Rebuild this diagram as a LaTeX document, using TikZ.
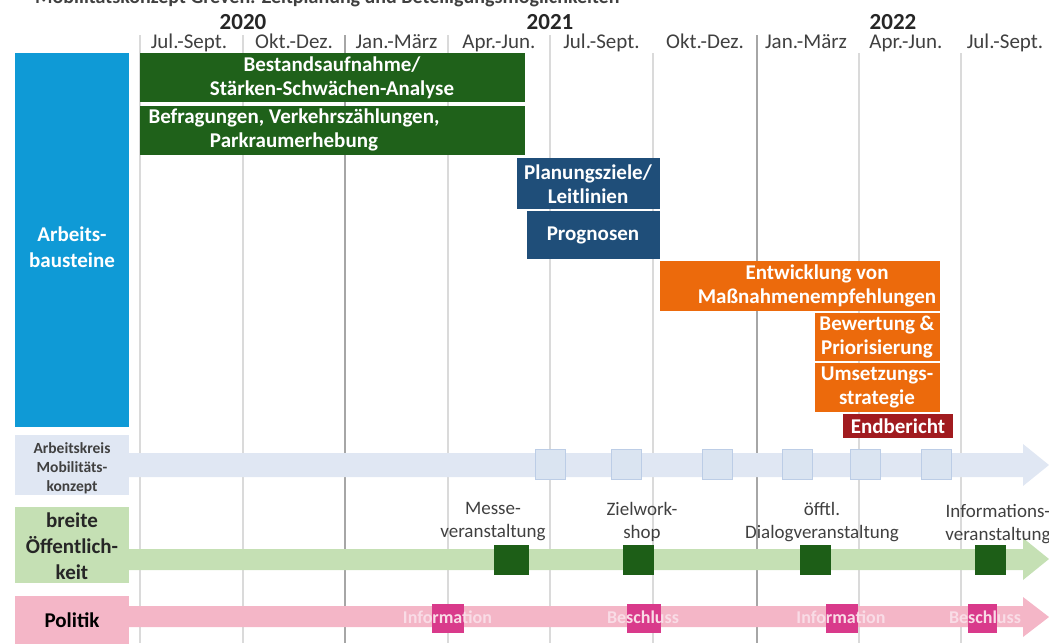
\documentclass[tikz,border=0pt]{standalone}
\usepackage{fontspec}
\setmainfont{Carlito}
\definecolor{abblue}{HTML}{0F9AD6}
\definecolor{aklav}{HTML}{E0E7F3}
\definecolor{aksqfill}{HTML}{DAE4F1}
\definecolor{aksqdraw}{HTML}{BCCDE6}
\definecolor{oegreen}{HTML}{C5E0B4}
\definecolor{popink}{HTML}{F4B6C7}
\definecolor{dgreen}{HTML}{1F611A}
\definecolor{sqgreen}{HTML}{1D5E17}
\definecolor{navy}{HTML}{1F4E79}
\definecolor{orng}{HTML}{EC6A0C}
\definecolor{dred}{HTML}{A11B1F}
\definecolor{polmag}{HTML}{D93A8B}
\definecolor{gridl}{HTML}{DADADA}
\definecolor{gridd}{HTML}{A6A6A6}
\definecolor{txtgray}{HTML}{404040}
\definecolor{yeargray}{HTML}{262626}
\definecolor{poltext}{HTML}{F9DCE6}
\begin{document}
\begin{tikzpicture}[x=1pt,y=-1pt,
  txt/.style={inner sep=0pt, align=center},
  bartext/.style={txt, text=white, font=\bfseries\fontsize{21}{24}\selectfont},
  yearlab/.style={txt, anchor=base, text=yeargray, font=\bfseries\fontsize{23}{26}\selectfont},
  quarter/.style={txt, anchor=base, text=txtgray, font=\fontsize{21}{24}\selectfont},
  evlabel/.style={txt, text=txtgray, font=\fontsize{19}{23}\selectfont},
  pollabel/.style={txt, text=poltext, font=\bfseries\fontsize{18}{22}\selectfont},
  aksq/.style={draw=aksqdraw, fill=aksqfill, line width=1pt, minimum width=30, minimum height=30, inner sep=0pt},
  oesq/.style={fill=sqgreen, minimum width=31, minimum height=30, inner sep=0pt},
  posq/.style={fill=polmag, minimum width=32, minimum height=29, inner sep=0pt},
  gridline/.style={draw=gridl, line width=1.5pt},
  yearline/.style={draw=gridd, line width=2pt},
]
\useasboundingbox (0,0) rectangle (1049,643);
\begin{scope}
\clip (0,0) rectangle (1049,643);
% title (cut off at the top edge)
\node[anchor=base west, inner sep=0pt, text=txtgray, font=\bfseries\fontsize{20}{24}\selectfont] (title) at (35,3) {Mobilitätskonzept Greven: Zeitplanung und Beteiligungsmöglichkeiten};
% grid
\foreach \x in {140,243,448,550} \draw[gridline] (\x,35) -- (\x,643);
\foreach \x in {653,859,961} \draw[gridline] (\x,53) -- (\x,643);
\foreach \x in {345,757} \draw[yearline] (\x,35) -- (\x,643);
% header
\node[yearlab] (y2020) at (243,29) {2020};
\node[yearlab] (y2021) at (550,29) {2021};
\node[yearlab] (y2022) at (893,29) {2022};
\node[quarter] (q1) at (189,48) {Jul.-Sept.};
\node[quarter] (q2) at (294,48) {Okt.-Dez.};
\node[quarter] (q3) at (396.5,48) {Jan.-März};
\node[quarter] (q4) at (499,48) {Apr.-Jun.};
\node[quarter] (q5) at (601.5,48) {Jul.-Sept.};
\node[quarter] (q6) at (705,48) {Okt.-Dez.};
\node[quarter] (q7) at (806,48) {Jan.-März};
\node[quarter] (q8) at (906,48) {Apr.-Jun.};
\node[quarter] (q9) at (1005,48) {Jul.-Sept.};
% left column
\path[fill=abblue] (15,53) rectangle (129,427);
\node[txt, text=white, font=\bfseries\fontsize{21}{26}\selectfont] (abt) at (72,247) {Arbeits-\\bausteine};
\path[fill=aklav] (15,435) rectangle (129,495);
\node[txt, text=txtgray, font=\bfseries\fontsize{15.5}{19}\selectfont] (akt) at (72,468) {Arbeitskreis\\Mobilitäts-\\konzept};
\path[fill=oegreen] (15,507) rectangle (129,583);
\node[txt, text=yeargray, font=\bfseries\fontsize{21}{26}\selectfont] (oet) at (72,546) {breite\\Öffentlich-\\keit};
\path[fill=popink] (15,596) rectangle (129,645);
\node[txt, text=black, font=\bfseries\fontsize{21}{26}\selectfont] (pot) at (72,620) {Politik};
% gantt bars
\path[fill=dgreen] (140,53) rectangle (525,102);
\node[bartext] (tbest) at (332,78) {Bestandsaufnahme/\\Stärken-Schwächen-Analyse};
\path[fill=dgreen] (140,106) rectangle (525,155);
\node[bartext] (tbefr) at (294,130) {Befragungen, Verkehrszählungen,\\Parkraumerhebung};
\path[fill=navy] (517,158) rectangle (660,209);
\node[bartext] (tplan) at (588,184) {Planungsziele/\\Leitlinien};
\path[fill=navy] (527,211) rectangle (660,259);
\node[bartext] (tprog) at (593,235) {Prognosen};
\path[fill=orng] (660,261) rectangle (940,311);
\node[bartext] (tentw) at (817,286) {Entwicklung von\\Maßnahmenempfehlungen};
\path[fill=orng] (815,313) rectangle (940,361);
\node[bartext] (tbew) at (877,337) {Bewertung \&\\Priorisierung};
\path[fill=orng] (815,363) rectangle (940,412);
\node[bartext] (tums) at (877,387) {Umsetzungs-\\strategie};
\path[fill=dred] (843,414) rectangle (953,438);
\node[bartext] (tend) at (898,426) {Endbericht};
% arrows
\fill[aklav] (129,453) -- (1023,453) -- (1023,444) -- (1049,465) -- (1023,486) -- (1023,477) -- (129,477) -- cycle;
\fill[oegreen] (129,549) -- (1023,549) -- (1023,538) -- (1049,559) -- (1023,580) -- (1023,570) -- (129,570) -- cycle;
\fill[popink] (129,606) -- (1023,606) -- (1023,597) -- (1049,617) -- (1023,637) -- (1023,627) -- (129,627) -- cycle;
% Arbeitskreis meetings
\foreach \n/\x in {1/550,2/626,3/717.5,4/797,5/865,6/936.5}
  \node[aksq] (ak\n) at (\x,464.5) {};
% public events
\node[oesq, minimum width=35] (oe1) at (511,560) {};
\node[oesq] (oe2) at (638.5,560) {};
\node[oesq] (oe3) at (815,560) {};
\node[oesq] (oe4) at (990.5,560) {};
\node[evlabel] (le1) at (493,521.5) {Messe-\\veranstaltung};
\node[evlabel] (le2) at (642,521.5) {Zielwork-\\shop};
\node[evlabel] (le3) at (822,522.5) {öfftl.\\Dialogveranstaltung};
\node[evlabel] (le4) at (998,524) {Informations-\\veranstaltung};
% politics
\node[posq] (po1) at (447.5,618.5) {};
\node[posq, minimum width=34] (po2) at (644,618.5) {};
\node[posq] (po3) at (842,618.5) {};
\node[posq, minimum width=29] (po4) at (982,618.5) {};
\node[pollabel] (lp1) at (447.5,617) {Information};
\node[pollabel] (lp2) at (643,617) {Beschluss};
\node[pollabel] (lp3) at (841,617) {Information};
\node[pollabel] (lp4) at (985,617) {Beschluss};
\end{scope}
\end{tikzpicture}
\end{document}
